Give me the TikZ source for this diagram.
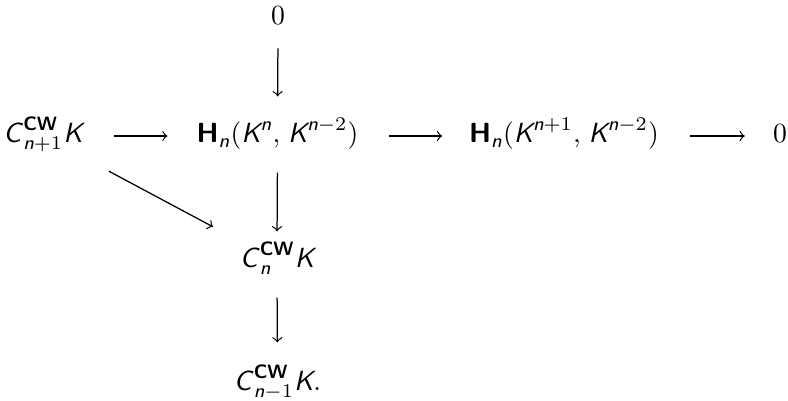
\documentclass[tikz,border=0pt]{standalone}
\usepackage{amsmath}
\newcommand{\sv}[1]{\textsf{\itshape #1}}
\newcommand{\svc}[1]{\textsf{\itshape #1\/}}
\newcommand{\CWsup}{\textsf{\bfseries CW}}
\newcommand{\Hbold}{\textsf{\bfseries H}}
\begin{document}
\begin{tikzpicture}[x=0.361pt,y=-0.361pt,
  obj/.style={inner sep=0pt,text height=9pt,text depth=4pt},
  arr/.style={->,line width=0.45pt}]
\useasboundingbox (0,0) rectangle (788,400);
\node[obj] (z0) at (278,18) {$0$};
\node[obj] (A) at (43,136) {$\svc{C}^{\CWsup}_{\sv{n}+1}\sv{K}$};
\node[obj] (H1) at (277.5,136) {$\Hbold_{\sv{n}}(\sv{K}^{\sv{n}},\mkern2mu\sv{K}^{\sv{n}-2})$};
\node[obj] (H2) at (564,136) {$\Hbold_{\sv{n}}(\sv{K}^{\sv{n}+1},\mkern2mu\sv{K}^{\sv{n}-2})$};
\node[obj] (z1) at (780,136) {$0$};
\node[obj] (Cn) at (277,261) {$\svc{C}^{\CWsup}_{\sv{n}}\sv{K}$};
\node[obj] (Cm) at (277.5,384) {$\svc{C}^{\CWsup}_{\sv{n}-1}\sv{K}.$};
\draw[arr,shorten <=11pt,shorten >=10.3pt] (A.east) -- (H1.west);
\draw[arr,shorten <=11pt,shorten >=9.5pt] (H1.east) -- (H2.west);
\draw[arr,shorten <=11pt,shorten >=10pt] (H2.east) -- (z1.west);
\draw[arr,shorten <=4.3pt,shorten >=7.6pt] (z0.south) -- (H1.north);
\draw[arr,shorten <=6.5pt,shorten >=4pt] (H1.south) -- (Cn.north);
\draw[arr,shorten <=6.5pt,shorten >=8.3pt] (Cn.south) -- (Cm.north);
\draw[arr,shorten <=27pt,shorten >=26.2pt] (A.center) -- (Cn.center);
\end{tikzpicture}
\end{document}
